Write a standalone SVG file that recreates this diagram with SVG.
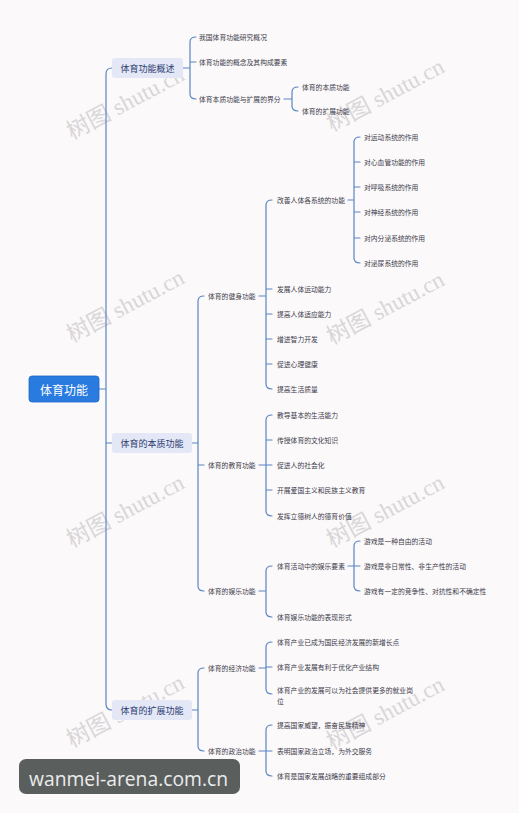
<svg xmlns="http://www.w3.org/2000/svg" width="519" height="813" viewBox="0 0 519 813">
<style>
.ln{fill:none;stroke:#5a86c4;stroke-width:1.2;stroke-linecap:round}
.t{font-family:"Noto Sans CJK SC","Noto Sans",sans-serif;font-size:6.8px;fill:#3b3b4a;dominant-baseline:central}
.l1{font-family:"Noto Sans CJK SC","Noto Sans",sans-serif;font-size:9px;fill:#2c3c70;dominant-baseline:central;text-anchor:middle}
.box{fill:#e3e7f6}
.wm{font-family:"Liberation Serif","Noto Sans CJK SC",serif;font-size:23px;fill:#d9d6d8}
</style>
<rect width="519" height="813" fill="#fbf9fa"/>
<g id="watermarks">
<text class="wm" transform="translate(72,140) rotate(-28)">树图 shutu.cn</text>
<text class="wm" transform="translate(332,132) rotate(-28)">树图 shutu.cn</text>
<text class="wm" transform="translate(72,343) rotate(-28)">树图 shutu.cn</text>
<text class="wm" transform="translate(332,345) rotate(-28)">树图 shutu.cn</text>
<text class="wm" transform="translate(72,548) rotate(-28)">树图 shutu.cn</text>
<text class="wm" transform="translate(332,548) rotate(-28)">树图 shutu.cn</text>
<text class="wm" transform="translate(72,748) rotate(-28)">树图 shutu.cn</text>
<text class="wm" transform="translate(332,750) rotate(-28)">树图 shutu.cn</text>
</g>
<g id="connectors">
<path class="ln" d="M99 389H106M112 68Q106 68 106 74V704Q106 710 112 710M106 443H112"/>
<path class="ln" d="M183 68H190M196 37Q190 37 190 42V94Q190 99 196 99M190 62H196"/>
<path class="ln" d="M284 99H292M298 87Q292 87 292 92V106Q292 111 298 111"/>
<path class="ln" d="M192 443H198M204 296Q198 296 198 301V586Q198 591 204 591M198 465H204"/>
<path class="ln" d="M259 296H266M272 200Q266 200 266 205V384Q266 389 272 389M266 289H272M266 314H272M266 339H272M266 364H272"/>
<path class="ln" d="M348 200H354M360 137Q354 137 354 142V258Q354 263 360 263M354 162H360M354 187H360M354 212H360M354 238H360"/>
<path class="ln" d="M259 465H266M272 415Q266 415 266 420V511Q266 516 272 516M266 440H272M266 465H272M266 490H272"/>
<path class="ln" d="M259 591H266M272 566Q266 566 266 571V612Q266 617 272 617"/>
<path class="ln" d="M348 566H354M360 541Q354 541 354 546V586Q354 591 360 591M354 566H360"/>
<path class="ln" d="M192 710H198M204 668Q198 668 198 673V746Q198 751 204 751"/>
<path class="ln" d="M259 668H266M272 642Q266 642 266 647V689Q266 694 272 694M266 667H272"/>
<path class="ln" d="M259 751H266M272 725Q266 725 266 730V771Q266 776 272 776M266 751H272"/>
</g>
<g id="root">
<rect x="29" y="376" width="70" height="26" rx="3" fill="#2a7be0" stroke="#1f68c8" stroke-width="0.8"/>
<text x="64" y="389" font-family="Noto Sans CJK SC,sans-serif" font-size="12" fill="#ffffff" text-anchor="middle" dominant-baseline="central">体育功能</text>
</g>
<g id="n-gaishu">
<rect class="box" x="112" y="58" width="71" height="20" rx="3"/>
<text class="l1" x="147.5" y="68">体育功能概述</text>
</g>
<g id="n-gaishu-1"><text class="t" x="199" y="37">我国体育功能研究概况</text></g>
<g id="n-gaishu-2"><text class="t" x="199" y="62">体育功能的概念及其构成要素</text></g>
<g id="n-gaishu-3"><text class="t" x="199" y="99">体育本质功能与扩展的界分</text></g>
<g id="n-jiefen-1"><text class="t" x="302" y="87">体育的本质功能</text></g>
<g id="n-jiefen-2"><text class="t" x="302" y="111">体育的扩展功能</text></g>
<g id="n-benzhi">
<rect class="box" x="112" y="433" width="80" height="20" rx="3"/>
<text class="l1" x="152" y="443">体育的本质功能</text>
</g>
<g id="n-jianshen"><text class="t" x="208" y="296">体育的健身功能</text></g>
<g id="n-gaishan"><text class="t" x="277" y="200">改善人体各系统的功能</text></g>
<g id="n-gs-1"><text class="t" x="364" y="137">对运动系统的作用</text></g>
<g id="n-gs-2"><text class="t" x="364" y="162">对心血管功能的作用</text></g>
<g id="n-gs-3"><text class="t" x="364" y="187">对呼吸系统的作用</text></g>
<g id="n-gs-4"><text class="t" x="364" y="212">对神经系统的作用</text></g>
<g id="n-gs-5"><text class="t" x="364" y="238">对内分泌系统的作用</text></g>
<g id="n-gs-6"><text class="t" x="364" y="263">对泌尿系统的作用</text></g>
<g id="n-js-2"><text class="t" x="277" y="289">发展人体运动能力</text></g>
<g id="n-js-3"><text class="t" x="277" y="314">提高人体适应能力</text></g>
<g id="n-js-4"><text class="t" x="277" y="339">增进智力开发</text></g>
<g id="n-js-5"><text class="t" x="277" y="364">促进心理健康</text></g>
<g id="n-js-6"><text class="t" x="277" y="389">提高生活质量</text></g>
<g id="n-jiaoyu"><text class="t" x="208" y="465">体育的教育功能</text></g>
<g id="n-jy-1"><text class="t" x="277" y="415">教导基本的生活能力</text></g>
<g id="n-jy-2"><text class="t" x="277" y="440">传授体育的文化知识</text></g>
<g id="n-jy-3"><text class="t" x="277" y="465">促进人的社会化</text></g>
<g id="n-jy-4"><text class="t" x="277" y="490">开展爱国主义和民族主义教育</text></g>
<g id="n-jy-5"><text class="t" x="277" y="516">发挥立德树人的德育价值</text></g>
<g id="n-yule"><text class="t" x="208" y="591">体育的娱乐功能</text></g>
<g id="n-yl-1"><text class="t" x="277" y="566">体育活动中的娱乐要素</text></g>
<g id="n-yl-1-1"><text class="t" x="364" y="541">游戏是一种自由的活动</text></g>
<g id="n-yl-1-2"><text class="t" x="364" y="566">游戏是非日常性、非生产性的活动</text></g>
<g id="n-yl-1-3"><text class="t" x="364" y="591">游戏有一定的竞争性、对抗性和不确定性</text></g>
<g id="n-yl-2"><text class="t" x="277" y="617">体育娱乐功能的表现形式</text></g>
<g id="n-kuozhan">
<rect class="box" x="112" y="700" width="80" height="20" rx="3"/>
<text class="l1" x="152" y="710">体育的扩展功能</text>
</g>
<g id="n-jingji"><text class="t" x="208" y="668">体育的经济功能</text></g>
<g id="n-jj-1"><text class="t" x="277" y="642">体育产业已成为国民经济发展的新增长点</text></g>
<g id="n-jj-2"><text class="t" x="277" y="667">体育产业发展有利于优化产业结构</text></g>
<g id="n-jj-3"><text class="t" x="277" y="690">体育产业的发展可以为社会提供更多的就业岗</text><text class="t" x="277" y="701">位</text></g>
<g id="n-zhengzhi"><text class="t" x="208" y="751">体育的政治功能</text></g>
<g id="n-zz-1"><text class="t" x="277" y="725">提高国家威望，振奋民族精神</text></g>
<g id="n-zz-2"><text class="t" x="277" y="751">表明国家政治立场，为外交服务</text></g>
<g id="n-zz-3"><text class="t" x="277" y="776">体育是国家发展战略的重要组成部分</text></g>
<g id="badge">
<rect x="19" y="759" width="221" height="35" rx="7" fill="#5a5f5e"/>
<text x="29" y="786" font-family="Open Sans,Noto Sans,sans-serif" font-size="20" fill="#ececec" textLength="199" lengthAdjust="spacingAndGlyphs">wanmei-arena.com.cn</text>
</g>
</svg>
